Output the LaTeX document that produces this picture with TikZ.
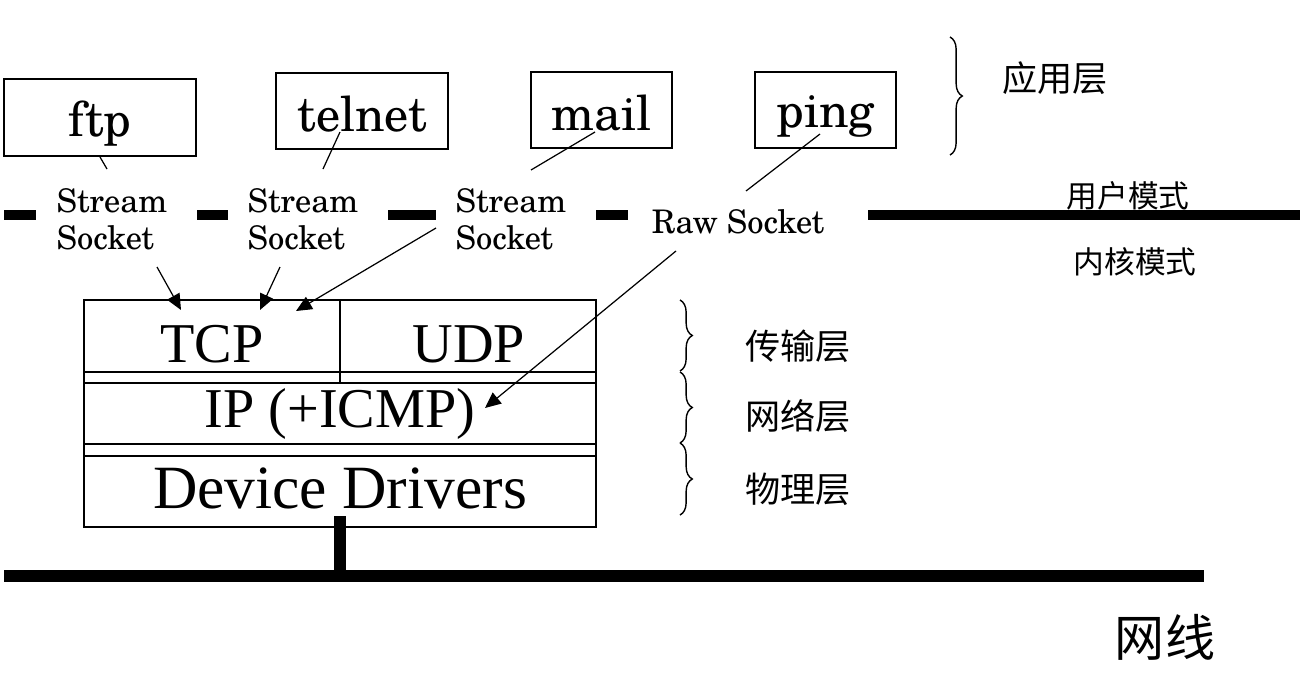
\documentclass[tikz,border=0pt]{standalone}
\usepackage{fontspec}
\usepackage{tikz}
\usetikzlibrary{arrows.meta,calc,decorations.pathreplacing}
\newfontfamily\cjk{Noto Sans CJK SC}
\newfontfamily\timesfont{Liberation Serif}
\newfontfamily\scholafont{TeX Gyre Schola}

\begin{document}
\begin{tikzpicture}[
    x=0.02cm, y=-0.02cm,
    appbox/.style={draw, line width=1pt, inner sep=0pt, text height=1.16cm, text depth=0.36cm,
                   font=\scholafont\fontsize{27.5}{30}\selectfont},
    sockname/.style={align=left, inner sep=1pt, font=\scholafont\fontsize{18.5}{21}\selectfont},
    layername/.style={inner sep=0pt, font=\timesfont\fontsize{32}{34}\selectfont},
    cnname/.style={inner sep=0pt, font=\cjk\fontsize{20}{22}\selectfont},
    modename/.style={inner sep=0pt, font=\cjk\fontsize{17.5}{19}\selectfont},
    tolayer/.style={line width=0.7pt, -{Triangle[length=9pt,width=8pt]}},
    tosock/.style={line width=0.7pt},
    layerbrace/.style={decorate, decoration={brace, amplitude=7pt}, line width=0.8pt}
]
\useasboundingbox (0,0) rectangle (1312,694);

% application boxes
\node [appbox, minimum width=3.84cm, text height=1.14cm, text depth=0.40cm] (ftp) at (100,117.5) {ftp};
\node [appbox, minimum width=3.44cm] (telnet) at (362,111)   {telnet};
\node [appbox, minimum width=2.82cm] (mail)   at (601.5,110) {mail};
\node [appbox, minimum width=2.82cm, text height=1.10cm, text depth=0.42cm] (ping) at (825.5,110) {ping};

% user / kernel border
\foreach \xa/\xb in {4/36, 197/228, 388/436, 596/628, 868/1300}
    \draw [line width=5.7pt] (\xa,215) -- (\xb,215);

% sockets
\node [sockname] (sockA) at (112,219) {Stream\\Socket};
\node [sockname] (sockB) at (303,219) {Stream\\Socket};
\node [sockname] (sockC) at (511,219) {Stream\\Socket};
\node [sockname] (sockR) at (738,222) {Raw Socket};

% protocol stack
\draw [line width=1.1pt] (84,300) rectangle (596,527);
\draw [line width=1.1pt] (84,372) -- (596,372) (84,383) -- (596,383)
                         (84,444) -- (596,444) (84,456) -- (596,456)
                         (340,300) -- (340,383);
\node [layername] (tcp) at (212,344) {TCP};
\node [layername] (udp) at (469,344) {UDP};
\node [layername] (ip)  at (340,414) {IP (+ICMP)};
\node [layername, font=\timesfont\fontsize{35}{37}\selectfont] (dev) at (340,488) {Device Drivers};

% network cable
\draw [line width=6.3pt] (4,576) -- (1204,576);
\draw [line width=6.3pt] (340,516) -- (340,576);

% app -> socket
\coordinate (ftpT)    at (100,157);  \coordinate (sockAT) at (107,169);
\coordinate (telnetT) at (340,132);  \coordinate (sockBT) at (323,169);
\coordinate (mailT)   at (595,132);  \coordinate (sockCT) at (531,170);
\coordinate (pingT)   at (820,134);  \coordinate (sockRT) at (746,191);
\draw [tosock] (ftpT) -- (sockAT);
\draw [tosock] (telnetT) -- (sockBT);
\draw [tosock] (mailT) -- (sockCT);
\draw [tosock] (pingT) -- (sockRT);

% socket -> layer
\coordinate (sockAB) at (157,267);  \coordinate (tcpA) at (181,310);
\coordinate (sockBB) at (280,267);  \coordinate (tcpB) at (260,310);
\coordinate (sockCB) at (436,228);  \coordinate (tcpC) at (296,311);
\coordinate (sockRB) at (676,251);  \coordinate (ipR)  at (485,408);
\draw [tolayer] (sockAB) -- (tcpA);
\draw [tolayer] (sockBB) -- (tcpB);
\draw [tolayer] (sockCB) -- (tcpC);
\draw [tolayer] (sockRB) -- (ipR);

% layer braces
\draw [layerbrace] (950,37) -- (950,155);
\draw [layerbrace] (680,300) -- (680,371);
\draw [layerbrace] (680,372) -- (680,443);
\draw [layerbrace] (680,443) -- (680,515);

\node [cnname] (app)   at (1055,78)  {应用层};
\node [cnname] (trans) at (798,346)  {传输层};
\node [cnname] (net)   at (798,416)  {网络层};
\node [cnname] (phys)  at (798,489)  {物理层};
\node [modename] (user)   at (1128,196) {用户模式};
\node [modename] (kernel) at (1135,262) {内核模式};
\node [cnname, font=\cjk\fontsize{28.5}{30}\selectfont] (wire) at (1165,637) {网线};
\end{tikzpicture}
\end{document}
